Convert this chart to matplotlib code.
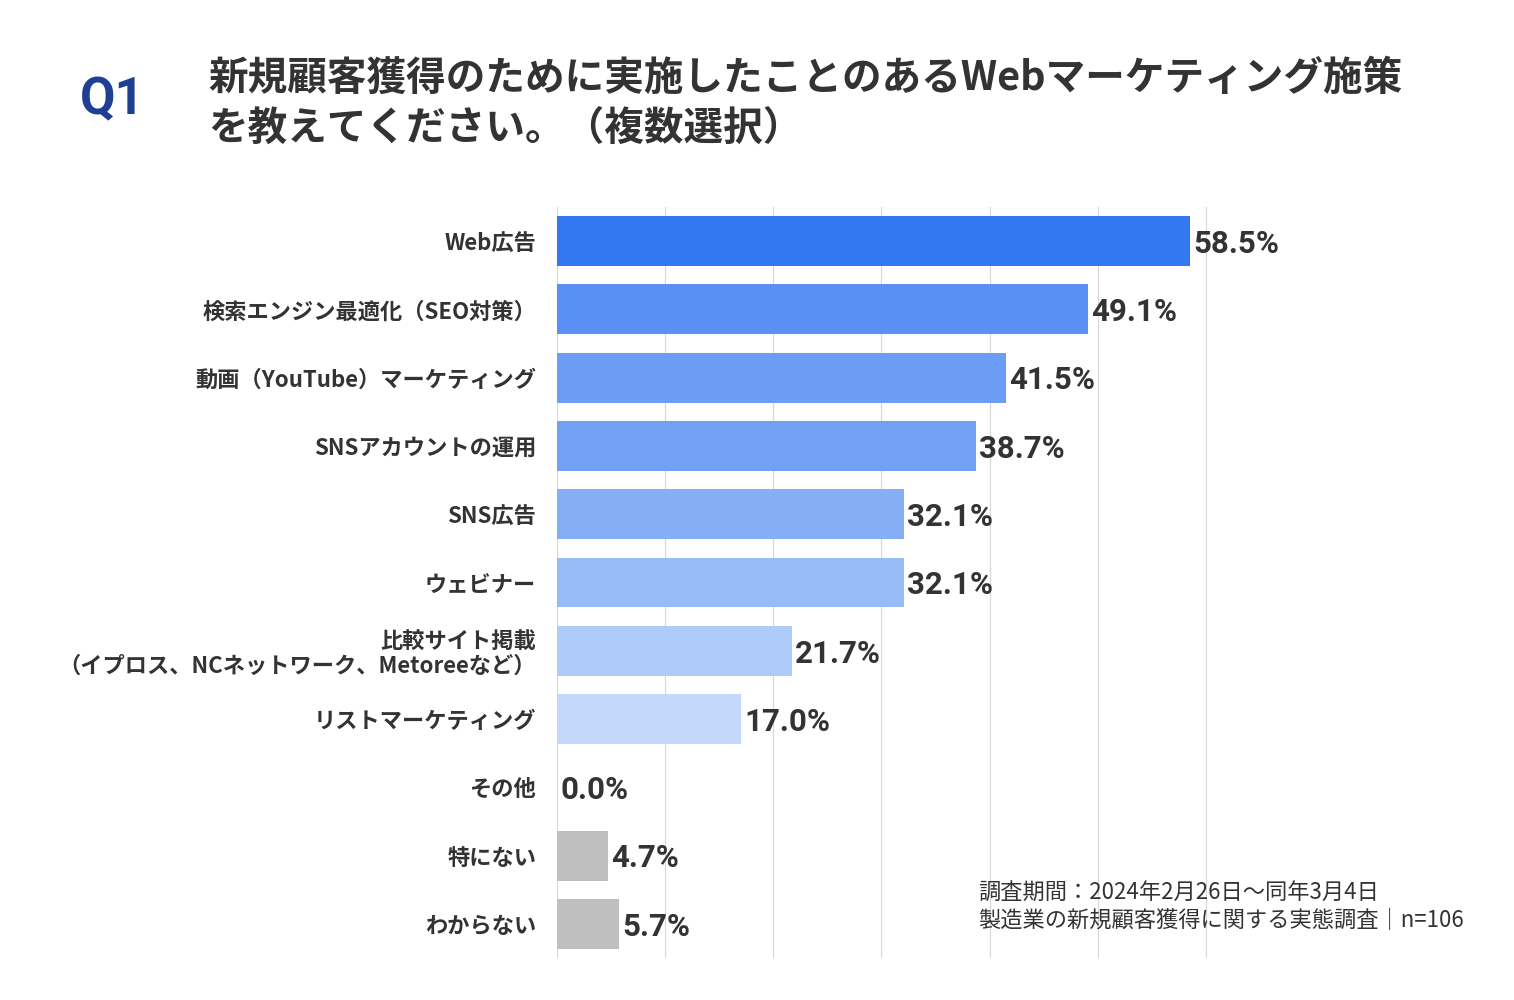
import matplotlib.pyplot as plt

plt.rcParams['font.family'] = ['Noto Sans CJK JP', 'DejaVu Sans']

categories = [
    'Web広告',
    '検索エンジン最適化（SEO対策）',
    '動画（YouTube）マーケティング',
    'SNSアカウントの運用',
    'SNS広告',
    'ウェビナー',
    '比較サイト掲載\n（イプロス、NCネットワーク、Metoreeなど）',
    'リストマーケティング',
    'その他',
    '特にない',
    'わからない',
]
values = [58.5, 49.1, 41.5, 38.7, 32.1, 32.1, 21.7, 17.0, 0.0, 4.7, 5.7]
colors = ['#3478F1', '#5A8FF3', '#6C9CF4', '#72A0F4', '#85AEF6', '#98BBF7',
          '#AECBF9', '#C3D8FA', '#C3D8FA', '#BFBFBF', '#BFBFBF']

fig = plt.figure(figsize=(15.14, 10), dpi=100, facecolor='white')
ax = fig.add_axes([557 / 1514, 1 - 958 / 1000, 757 / 1514, 751 / 1000])

y = list(range(len(categories)))
ax.barh(y, values, height=0.73, color=colors, zorder=2)
ax.set_xlim(0, 70)
ax.set_ylim(len(categories) - 0.5, -0.5)

ax.set_xticks([0, 10, 20, 30, 40, 50, 60])
ax.grid(axis='x', color='#D9D9D9', linewidth=0.9, zorder=0)
ax.tick_params(axis='x', length=0, labelbottom=False)
ax.tick_params(axis='y', length=0, pad=15)
ax.set_yticks(y)
ax.set_yticklabels(categories, fontsize=16, fontweight='bold', color='#333333',
                   linespacing=1.1)
for t in ax.get_yticklabels():
    t.set_multialignment('right')
for s in ax.spines.values():
    s.set_visible(False)

# value labels next to each bar
for yi, v in zip(y, values):
    ax.text(v + 0.3, yi + 0.04, f'{v:.1f}%', va='center', ha='left',
            fontsize=22.5, fontweight='bold', color='#333333',
            family=['Roboto', 'DejaVu Sans'], clip_on=False, zorder=3)

fig.text(80 / 1514, 1 - 100 / 1000, 'Q1', fontsize=37, fontweight='bold',
         color='#1E3F94', va='center', ha='left', family=['Roboto', 'DejaVu Sans'])
fig.text(208 / 1514, 1 - 78 / 1000, '新規顧客獲得のために実施したことのあるWebマーケティング施策',
         fontsize=28.5, fontweight='bold', color='#333333', va='center', ha='left')
fig.text(208 / 1514, 1 - 128 / 1000, 'を教えてください。（複数選択）',
         fontsize=28.5, fontweight='bold', color='#333333', va='center', ha='left')

fig.text(978 / 1514, 1 - 892 / 1000, '調査期間：2024年2月26日～同年3月4日',
         fontsize=16, color='#333333', va='center', ha='left')
fig.text(978 / 1514, 1 - 921 / 1000, '製造業の新規顧客獲得に関する実態調査｜n=106',
         fontsize=16, color='#333333', va='center', ha='left')

fig.savefig('out.png', dpi=100, facecolor='white')
